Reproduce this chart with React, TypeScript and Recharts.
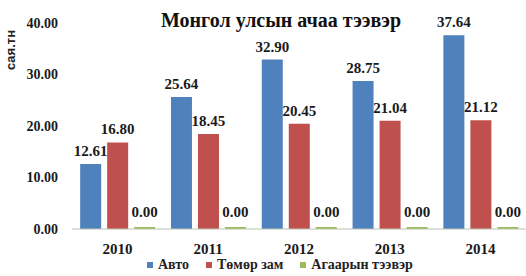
import { BarChart, Bar, XAxis, YAxis, Legend, LabelList } from 'recharts';

const years = ['2010', '2011', '2012', '2013', '2014'];
const auto = [12.61, 25.64, 32.9, 28.75, 37.64];
const rail = [16.8, 18.45, 20.45, 21.04, 21.12];
const air = [0, 0, 0, 0, 0];
const yTicks = [0, 10, 20, 30, 40];

const chartData = years.map((year, i) => ({ year, auto: auto[i], rail: rail[i], air: air[i] }));

const serif = 'Times New Roman, serif';
const fmt = (v: number) => Number(v).toFixed(2);

const legendItems = [
  { name: 'Авто', color: '#4f81bd' },
  { name: 'Төмөр зам', color: '#c0504d' },
  { name: 'Агаарын тээвэр', color: '#9bbb59' },
];

function LegendBox() {
  return (
    <div style={{ display: 'flex', gap: 17, height: 22, alignItems: 'center', paddingLeft: 147, fontFamily: serif, fontSize: 14, fontWeight: 'bold', color: '#222' }}>
      {legendItems.map((it) => (
        <span key={it.name} style={{ display: 'flex', alignItems: 'center', gap: 5 }}>
          <span style={{ width: 6, height: 6, background: it.color, display: 'inline-block' }} />
          {it.name}
        </span>
      ))}
    </div>
  );
}

export default function App() {
  const labelProps = { fontFamily: serif, fontSize: 15, fontWeight: 'bold', fill: '#1a1a1a' };
  return (
    <div style={{ position: 'fixed', left: 0, top: 0, width: 526, height: 276, background: '#fff', fontFamily: serif }}>
      <BarChart width={526} height={276} data={chartData} margin={{ top: 23, right: 0, bottom: 0, left: 0 }} barCategoryGap="9%" barGap={6}>
        <text x={281} y={27} textAnchor="middle" fontFamily={serif} fontSize={20} fontWeight="bold" fill="#111">
          Монгол улсын ачаа тээвэр
        </text>
        <text x={15} y={50} textAnchor="middle" transform="rotate(-90 15 50)" fontFamily="Liberation Sans, Arial, sans-serif" fontSize={13} fontWeight="bold" fill="#222">
          сая.тн
        </text>
        <XAxis dataKey="year" height={25} tickLine={false} tickSize={0} tickMargin={14} axisLine={{ stroke: '#b8c4b0' }} tick={labelProps} />
        <YAxis width={72} domain={[0, 40]} ticks={yTicks} tickFormatter={fmt} axisLine={false} tickLine={false} tickSize={0} tickMargin={14} tick={{ ...labelProps, fontSize: 14 }} />
        <Legend verticalAlign="bottom" content={() => <LegendBox />} />
        <Bar dataKey="auto" name="Авто" fill="#4f81bd" isAnimationActive={false}>
          <LabelList dataKey="auto" position="top" offset={8} formatter={fmt} {...labelProps} />
        </Bar>
        <Bar dataKey="rail" name="Төмөр зам" fill="#c0504d" isAnimationActive={false}>
          <LabelList dataKey="rail" position="top" offset={8} formatter={fmt} {...labelProps} />
        </Bar>
        <Bar dataKey="air" name="Агаарын тээвэр" fill="#9bbb59" minPointSize={2} isAnimationActive={false}>
          <LabelList dataKey="air" position="top" offset={10} formatter={fmt} {...labelProps} />
        </Bar>
      </BarChart>
    </div>
  );
}
